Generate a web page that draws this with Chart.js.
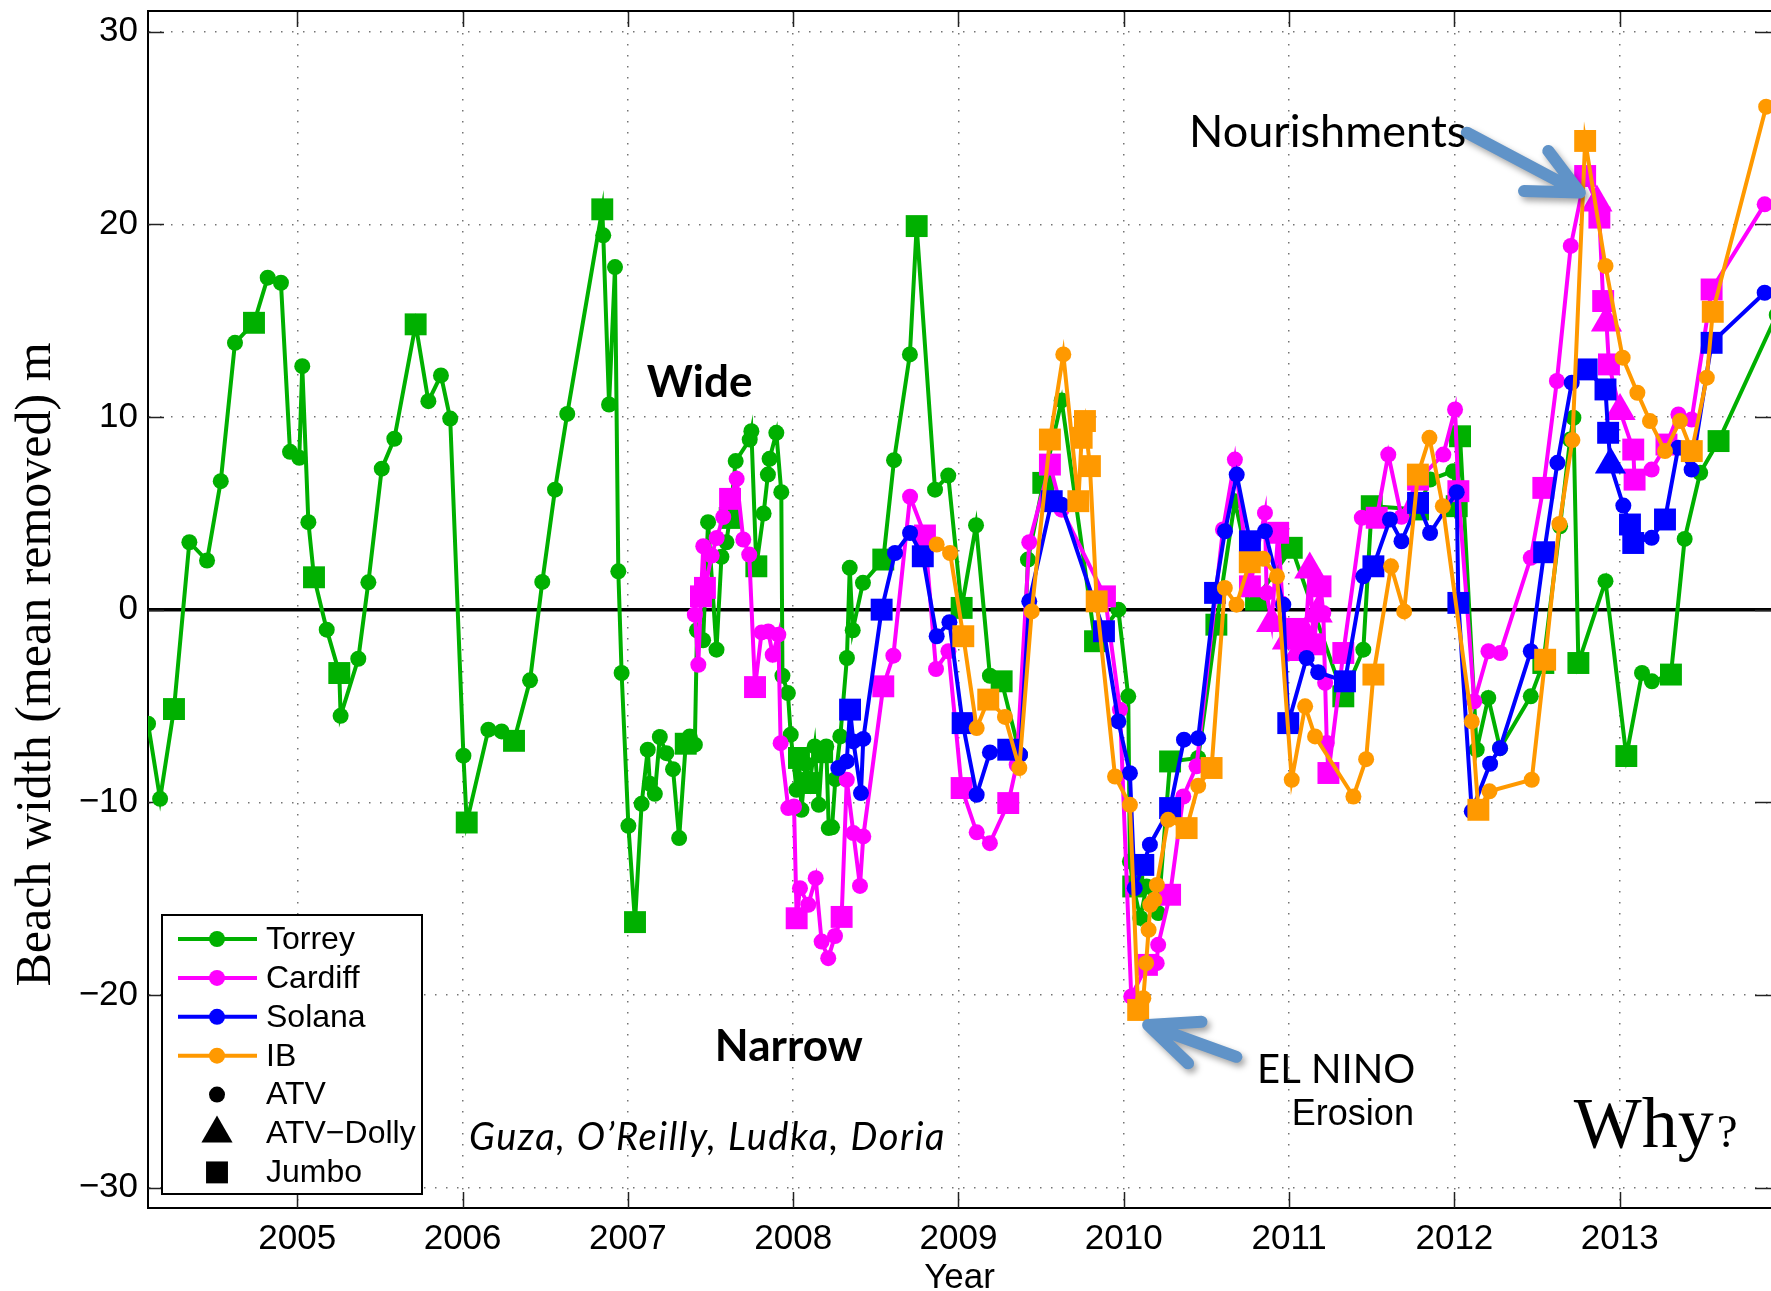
<!DOCTYPE html>
<html>
<head>
<meta charset="utf-8">
<title>Beach width</title>
<script src="https://cdn.jsdelivr.net/npm/chart.js@4.4.1/dist/chart.umd.min.js"></script>
<style>
html, body { margin: 0; padding: 0; background: #fff; overflow: hidden; }
canvas { display: block; }
</style>
</head>
<body>
<canvas id="beach" width="1771" height="1291"></canvas>
<script>
// Beach width anomaly (mean removed, m) per survey.
// Row: [decimal year, width, vehicle]   A = ATV, D = ATV-Dolly, J = Jumbo
const torrey = [
  [2004.097,-5.92,'A'],[2004.170,-9.82,'A'],[2004.254,-5.16,'J'],[2004.347,3.50,'A'],
  [2004.454,2.55,'A'],[2004.537,6.67,'A'],[2004.623,13.85,'A'],[2004.738,14.89,'J'],
  [2004.821,17.23,'A'],[2004.901,16.97,'A'],[2004.956,8.19,'A'],[2005.012,7.88,'A'],
  [2005.030,12.64,'A'],[2005.067,4.54,'A'],[2005.101,1.68,'J'],[2005.178,-1.04,'A'],
  [2005.254,-3.29,'J'],[2005.262,-5.51,'A'],[2005.369,-2.55,'A'],[2005.430,1.42,'A'],
  [2005.511,7.32,'A'],[2005.587,8.87,'A'],[2005.716,14.81,'J'],[2005.793,10.82,'A'],
  [2005.869,12.16,'A'],[2005.925,9.92,'A'],[2006.005,-7.58,'A'],[2006.025,-11.05,'J'],
  [2006.156,-6.23,'A'],[2006.236,-6.32,'A'],[2006.311,-6.81,'J'],[2006.408,-3.67,'A'],
  [2006.482,1.44,'A'],[2006.559,6.23,'A'],[2006.633,10.16,'A'],[2006.845,20.78,'J'],
  [2006.851,19.43,'A'],[2006.886,10.65,'A'],[2006.922,17.78,'A'],[2006.942,1.99,'A'],
  [2006.962,-3.29,'A'],[2007.003,-11.22,'A'],[2007.043,-16.22,'J'],[2007.083,-10.08,'A'],
  [2007.120,-7.27,'A'],[2007.133,-9.04,'A'],[2007.163,-9.56,'A'],[2007.193,-6.61,'A'],
  [2007.233,-7.45,'A'],[2007.273,-8.28,'A'],[2007.310,-11.86,'A'],[2007.350,-6.96,'J'],
  [2007.374,-6.58,'A'],[2007.405,-7.01,'A'],[2007.418,-1.07,'A'],[2007.455,-1.59,'A'],
  [2007.485,4.54,'A'],[2007.536,-2.08,'A'],[2007.566,2.74,'A'],[2007.596,3.50,'A'],
  [2007.616,4.76,'J'],[2007.652,7.71,'A'],[2007.737,8.83,'A'],[2007.747,9.26,'A'],
  [2007.777,2.25,'J'],[2007.821,4.99,'A'],[2007.847,7.01,'A'],[2007.857,7.83,'A'],
  [2007.898,9.18,'A'],[2007.928,6.10,'A'],[2007.935,-3.43,'A'],[2007.968,-4.33,'A'],
  [2007.985,-6.49,'A'],[2008.020,-9.35,'A'],[2008.035,-7.70,'J'],[2008.050,-10.39,'A'],
  [2008.075,-8.00,'A'],[2008.100,-9.00,'J'],[2008.130,-7.10,'A'],[2008.155,-10.13,'A'],
  [2008.175,-7.40,'J'],[2008.200,-7.10,'A'],[2008.215,-11.34,'A'],[2008.235,-11.30,'A'],
  [2008.255,-8.80,'A'],[2008.285,-6.58,'A'],[2008.325,-2.51,'A'],[2008.342,2.17,'A'],
  [2008.360,-1.07,'A'],[2008.422,1.39,'A'],[2008.545,2.60,'J'],[2008.610,7.76,'A'],
  [2008.706,13.25,'A'],[2008.747,19.91,'J'],[2008.858,6.23,'A'],[2008.938,6.96,'A'],
  [2009.019,0.09,'J'],[2009.106,4.38,'A'],[2009.190,-3.43,'A'],[2009.261,-3.72,'J'],
  [2009.372,-7.53,'A'],[2009.420,2.60,'A'],[2009.513,6.58,'J'],[2009.624,10.86,'A'],
  [2009.826,-1.64,'J'],[2009.967,0.00,'A'],[2010.027,-4.50,'A'],[2010.037,-13.07,'A'],
  [2010.057,-14.37,'J'],[2010.100,-16.00,'A'],[2010.138,-14.37,'A'],[2010.208,-15.75,'A'],
  [2010.280,-7.88,'J'],[2010.450,-7.70,'A'],[2010.560,-0.78,'J'],[2010.672,5.63,'A'],
  [2010.800,0.52,'J'],[2011.016,3.21,'J'],[2011.328,-4.50,'J'],[2011.449,-2.08,'A'],
  [2011.500,5.37,'J'],[2011.780,5.20,'J'],[2011.853,6.75,'A'],[2011.993,7.19,'A'],
  [2012.014,5.37,'J'],[2012.034,9.00,'J'],[2012.135,-7.27,'A'],[2012.205,-4.58,'A'],
  [2012.276,-7.19,'A'],[2012.462,-4.50,'A'],[2012.538,-2.77,'J'],[2012.639,4.33,'A'],
  [2012.700,8.83,'A'],[2012.720,9.96,'A'],[2012.750,-2.77,'J'],[2012.914,1.48,'A'],
  [2013.040,-7.60,'J'],[2013.135,-3.29,'A'],[2013.195,-3.72,'A'],[2013.310,-3.37,'J'],
  [2013.393,3.67,'A'],[2013.487,7.10,'A'],[2013.598,8.75,'J'],[2013.950,15.30,'A']
];

const cardiff = [
  [2007.405,-0.26,'A'],[2007.426,-2.86,'A'],[2007.442,0.69,'J'],[2007.456,3.29,'A'],
  [2007.466,1.13,'J'],[2007.507,2.81,'A'],[2007.537,3.72,'A'],[2007.577,4.81,'A'],
  [2007.618,5.75,'J'],[2007.658,6.79,'A'],[2007.698,3.64,'A'],[2007.734,2.86,'A'],
  [2007.769,-4.02,'J'],[2007.809,-1.18,'A'],[2007.849,-1.13,'A'],[2007.876,-2.34,'A'],
  [2007.910,-1.30,'A'],[2007.924,-6.93,'A'],[2007.970,-10.30,'A'],[2008.005,-10.22,'A'],
  [2008.021,-16.02,'J'],[2008.041,-14.46,'A'],[2008.091,-15.32,'A'],[2008.136,-13.94,'A'],
  [2008.172,-17.23,'A'],[2008.212,-18.09,'A'],[2008.253,-16.94,'A'],[2008.293,-15.95,'J'],
  [2008.324,-8.83,'A'],[2008.364,-11.60,'A'],[2008.404,-14.34,'A'],[2008.424,-11.77,'A'],
  [2008.545,-3.98,'J'],[2008.606,-2.39,'A'],[2008.707,5.86,'A'],[2008.797,3.85,'J'],
  [2008.864,-3.08,'A'],[2008.939,-2.16,'A'],[2009.019,-9.26,'J'],[2009.110,-11.56,'A'],
  [2009.190,-12.12,'A'],[2009.301,-10.04,'J'],[2009.352,-8.05,'A'],[2009.428,3.50,'A'],
  [2009.553,7.53,'J'],[2009.624,5.19,'A'],[2009.886,0.69,'J'],[2009.977,-5.19,'A'],
  [2010.045,-20.08,'A'],[2010.140,-18.44,'J'],[2010.199,-18.35,'A'],[2010.208,-17.40,'A'],
  [2010.280,-14.80,'J'],[2010.360,-9.70,'A'],[2010.440,-8.13,'A'],[2010.600,4.16,'A'],
  [2010.672,7.79,'A'],[2010.763,1.21,'J'],[2010.854,5.02,'A'],[2010.864,0.87,'A'],
  [2010.894,-0.69,'D'],[2010.934,3.99,'J'],[2010.960,0.30,'A'],[2010.990,-1.60,'D'],
  [2011.030,-1.00,'J'],[2011.060,-2.20,'D'],[2011.100,-1.30,'D'],[2011.125,2.08,'D'],
  [2011.150,-1.80,'J'],[2011.170,-0.20,'D'],[2011.190,1.21,'J'],[2011.207,-0.17,'A'],
  [2011.218,-3.80,'A'],[2011.228,-6.92,'A'],[2011.238,-8.48,'J'],[2011.328,-2.25,'J'],
  [2011.440,4.77,'A'],[2011.530,4.77,'J'],[2011.600,8.05,'A'],[2011.680,4.82,'A'],
  [2011.780,6.75,'J'],[2011.933,8.05,'A'],[2012.004,10.39,'A'],[2012.024,6.15,'J'],
  [2012.120,-4.76,'A'],[2012.206,-2.16,'A'],[2012.277,-2.25,'A'],[2012.462,2.69,'A'],
  [2012.538,6.32,'J'],[2012.620,11.87,'A'],[2012.704,18.88,'A'],[2012.791,22.51,'J'],
  [2012.862,21.13,'D'],[2012.877,20.35,'J'],[2012.900,16.02,'J'],[2012.920,14.90,'D'],
  [2012.935,12.73,'J'],[2013.002,10.31,'D'],[2013.082,8.31,'J'],[2013.090,6.75,'J'],
  [2013.193,7.27,'A'],[2013.283,8.57,'J'],[2013.355,10.13,'A'],[2013.435,9.87,'A'],
  [2013.556,16.62,'J'],[2013.877,21.04,'A']
];

const solana = [
  [2008.273,-8.22,'A'],[2008.324,-7.88,'A'],[2008.344,-5.19,'J'],[2008.364,-6.84,'A'],
  [2008.410,-9.52,'A'],[2008.424,-6.71,'A'],[2008.535,0.00,'J'],[2008.616,2.94,'A'],
  [2008.707,3.98,'A'],[2008.784,2.77,'J'],[2008.868,-1.38,'A'],[2008.945,-0.65,'A'],
  [2009.025,-5.89,'J'],[2009.110,-9.61,'A'],[2009.190,-7.41,'A'],[2009.301,-7.27,'J'],
  [2009.372,-7.53,'A'],[2009.428,0.43,'A'],[2009.564,5.63,'J'],[2009.624,5.45,'A'],
  [2009.880,-1.12,'J'],[2009.967,-5.80,'A'],[2010.037,-8.49,'A'],[2010.066,-14.46,'A'],
  [2010.118,-13.25,'J'],[2010.158,-12.20,'A'],[2010.280,-10.30,'J'],[2010.364,-6.75,'A'],
  [2010.450,-6.67,'A'],[2010.552,0.87,'J'],[2010.612,4.07,'A'],[2010.683,7.01,'A'],
  [2010.763,3.55,'J'],[2010.854,4.07,'A'],[2010.965,0.26,'A'],[2010.995,-5.89,'J'],
  [2011.106,-2.51,'A'],[2011.176,-3.25,'A'],[2011.338,-3.72,'J'],[2011.449,1.73,'A'],
  [2011.510,2.25,'J'],[2011.610,4.68,'A'],[2011.680,3.55,'A'],[2011.780,5.54,'J'],
  [2011.853,3.98,'A'],[2012.014,6.10,'A'],[2012.024,0.35,'J'],[2012.105,-10.47,'A'],
  [2012.216,-8.00,'A'],[2012.276,-7.19,'A'],[2012.462,-2.16,'A'],[2012.543,2.98,'J'],
  [2012.623,7.62,'A'],[2012.710,11.78,'A'],[2012.800,12.47,'J'],[2012.914,11.43,'J'],
  [2012.930,9.18,'J'],[2012.944,7.53,'D'],[2013.022,5.40,'A'],[2013.062,4.42,'J'],
  [2013.082,3.46,'J'],[2013.193,3.73,'A'],[2013.274,4.68,'J'],[2013.354,8.40,'A'],
  [2013.435,7.27,'A'],[2013.556,13.85,'J'],[2013.877,16.45,'A']
];

const imperialBeach = [
  [2008.868,3.38,'A'],[2008.949,2.94,'A'],[2009.029,-1.38,'J'],[2009.110,-6.15,'A'],
  [2009.180,-4.67,'J'],[2009.281,-5.57,'A'],[2009.368,-8.22,'A'],[2009.443,-0.09,'A'],
  [2009.553,8.83,'J'],[2009.634,13.25,'A'],[2009.725,5.63,'J'],[2009.745,8.92,'J'],
  [2009.765,9.79,'J'],[2009.795,7.45,'J'],[2009.836,0.43,'J'],[2009.947,-8.66,'A'],
  [2010.037,-10.13,'A'],[2010.087,-20.78,'J'],[2010.118,-20.17,'A'],[2010.135,-18.35,'A'],
  [2010.150,-16.62,'A'],[2010.160,-15.32,'A'],[2010.185,-15.06,'A'],[2010.200,-14.29,'A'],
  [2010.268,-10.91,'A'],[2010.380,-11.34,'J'],[2010.450,-9.14,'A'],[2010.531,-8.22,'J'],
  [2010.611,1.13,'A'],[2010.682,0.26,'A'],[2010.762,2.46,'J'],[2010.843,2.64,'A'],
  [2010.927,1.73,'A'],[2011.016,-8.83,'A'],[2011.097,-5.02,'A'],[2011.157,-6.58,'A'],
  [2011.389,-9.70,'A'],[2011.466,-7.76,'A'],[2011.510,-3.37,'J'],[2011.617,2.25,'A'],
  [2011.696,-0.09,'A'],[2011.779,7.01,'J'],[2011.849,8.92,'A'],[2011.930,5.37,'A'],
  [2012.105,-5.80,'A'],[2012.145,-10.39,'J'],[2012.212,-9.43,'A'],[2012.468,-8.83,'A'],
  [2012.549,-2.60,'J'],[2012.635,4.45,'A'],[2012.714,8.80,'A'],[2012.791,24.33,'J'],
  [2012.914,17.84,'A'],[2013.018,13.08,'A'],[2013.107,11.26,'A'],[2013.183,9.79,'A'],
  [2013.274,8.23,'A'],[2013.365,9.79,'A'],[2013.436,8.23,'J'],[2013.527,12.04,'A'],
  [2013.563,15.46,'J'],[2013.886,26.11,'A']
];

const siteNames  = ['Torrey', 'Cardiff', 'Solana', 'IB'];
const siteColors = ['#00b000', '#ff00ff', '#0000ff', '#ff9900'];
const siteRows   = [torrey, cardiff, solana, imperialBeach];

const gearCodes  = ['A', 'D', 'J'];
const gearNames  = ['ATV', 'ATV\u2212Dolly', 'Jumbo'];

const yearTicks  = [2005, 2006, 2007, 2008, 2009, 2010, 2011, 2012, 2013];
const widthTicks = [-30, -20, -10, 0, 10, 20, 30];

// Marker shape and size for each survey vehicle
const gearStyle  = { A: 'circle', D: 'triangle', J: 'rect' };
const gearRadius = { A: 8, D: 18, J: 15.5 };

// Text annotations placed in data coordinates
const notes = [
  { text: 'Wide',   x: 2007.114, y: 11.06,  font: 'bold 44px Lato' },
  { text: 'Narrow', x: 2007.526, y: -23.43, font: 'bold 44px Lato' },
  { text: 'Guza, O\u2019Reilly, Ludka, Doria', x: 2006.039, y: -28.05, font: 'italic 38px Lato', spacing: '1.6px' },
  { text: 'Nourishments', x: 2010.395, y: 24.0, font: '45px Lato' },
  { text: 'EL NINO', x: 2010.806, y: -24.57, font: '40px Lato' },
  { text: 'Erosion', x: 2011.755, y: -26.75, font: '36px "Liberation Sans"', align: 'right' }
];

const arrows = [
  { tail: [2012.075, 24.76], tip: [2012.759, 21.65], wings: [[2012.568, 23.81], [2012.421, 21.73]] },
  { tail: [2010.681, -23.21], tip: [2010.147, -21.56], wings: [[2010.470, -21.39], [2010.389, -23.55]] }
];

Chart.defaults.font.family = '"Liberation Sans", Arial, sans-serif';
Chart.defaults.color = '#000';

const datasets = siteRows.map((rows, i) => ({
  label: siteNames[i],
  data: rows.map(r => ({ x: r[0], y: r[1] })),
  showLine: true,
  tension: 0,
  borderColor: siteColors[i],
  backgroundColor: siteColors[i],
  borderWidth: 4,
  pointStyle: rows.map(r => gearStyle[r[2]]),
  pointRadius: rows.map(r => gearRadius[r[2]]),
  pointHoverRadius: rows.map(r => gearRadius[r[2]]),
  pointBackgroundColor: siteColors[i],
  pointBorderWidth: 0,
  order: siteRows.length - i
}));

function strokeLine(ctx, x1, y1, x2, y2) {
  ctx.beginPath(); ctx.moveTo(x1, y1); ctx.lineTo(x2, y2); ctx.stroke();
}

function drawMarker(ctx, style, r, cx, cy) {
  ctx.beginPath();
  if (style === 'circle') {
    ctx.arc(cx, cy, r, 0, Math.PI * 2);
  } else if (style === 'rect') {
    const h = r * Math.SQRT1_2;
    ctx.rect(cx - h, cy - h, 2 * h, 2 * h);
  } else {
    ctx.moveTo(cx, cy - r);
    ctx.lineTo(cx + r * 0.866, cy + r * 0.5);
    ctx.lineTo(cx - r * 0.866, cy + r * 0.5);
    ctx.closePath();
  }
  ctx.fill();
}

const axesFrame = {
  id: 'axesFrame',
  beforeDatasetsDraw(chart) {
    const { ctx, chartArea: a, scales: { x, y } } = chart;
    ctx.save();
    // zero line
    ctx.strokeStyle = '#000';
    ctx.lineWidth = 3.5;
    const y0 = y.getPixelForValue(0);
    strokeLine(ctx, a.left, y0, a.right, y0);
    // inward tick marks on all four sides
    ctx.lineWidth = 1.5;
    ctx.strokeStyle = '#222';
    widthTicks.forEach(v => {
      const py = Math.round(y.getPixelForValue(v)) + 0.5;
      strokeLine(ctx, a.left, py, a.left + 16, py);
      strokeLine(ctx, a.right - 16, py, a.right, py);
    });
    yearTicks.forEach(v => {
      const px = Math.round(x.getPixelForValue(v)) + 0.5;
      strokeLine(ctx, px, a.bottom, px, a.bottom - 16);
      strokeLine(ctx, px, a.top, px, a.top + 16);
    });
    ctx.lineWidth = 2;
    ctx.strokeStyle = '#000';
    strokeLine(ctx, a.left, a.top, a.right, a.top);
    ctx.restore();
  },
  afterDraw(chart) {
    const { ctx, chartArea: a, scales: { x, y } } = chart;
    ctx.save();

    // axis titles
    ctx.fillStyle = '#000';
    ctx.font = '35px "Liberation Sans"';
    ctx.textAlign = 'center';
    ctx.textBaseline = 'alphabetic';
    ctx.fillText('Year', (a.left + a.right) / 2, a.bottom + 80);

    ctx.save();
    ctx.translate(50, (a.top + a.bottom) / 2 + 55);
    ctx.rotate(-Math.PI / 2);
    ctx.font = '50px "Liberation Serif"';
    ctx.fillText('Beach width (mean removed) m', 0, 0);
    ctx.restore();

    // arrows
    ctx.save();
    ctx.strokeStyle = '#6093c8';
    ctx.lineWidth = 12;
    ctx.lineCap = 'round';
    ctx.lineJoin = 'round';
    ctx.shadowColor = 'rgba(0,0,0,0.35)';
    ctx.shadowBlur = 6;
    ctx.shadowOffsetX = 3;
    ctx.shadowOffsetY = 4;
    arrows.forEach(ar => {
      const P = p => [x.getPixelForValue(p[0]), y.getPixelForValue(p[1])];
      const t = P(ar.tail), h = P(ar.tip), w1 = P(ar.wings[0]), w2 = P(ar.wings[1]);
      ctx.beginPath();
      ctx.moveTo(t[0], t[1]); ctx.lineTo(h[0], h[1]);
      ctx.moveTo(w1[0], w1[1]); ctx.lineTo(h[0], h[1]); ctx.lineTo(w2[0], w2[1]);
      ctx.stroke();
    });
    ctx.restore();

    // text notes
    ctx.fillStyle = '#000';
    notes.forEach(n => {
      ctx.save();
      ctx.font = n.font;
      if (n.spacing) ctx.letterSpacing = n.spacing;
      ctx.textAlign = n.align || 'left';
      ctx.textBaseline = 'alphabetic';
      ctx.fillText(n.text, x.getPixelForValue(n.x), y.getPixelForValue(n.y));
      ctx.restore();
    });

    // "Why?"
    ctx.fillStyle = '#000';
    ctx.textAlign = 'left';
    ctx.textBaseline = 'alphabetic';
    ctx.font = '72px "Liberation Serif"';
    const wx = x.getPixelForValue(2012.722), wy = y.getPixelForValue(-27.9);
    ctx.fillText('Why', wx, wy);
    const ww = ctx.measureText('Why').width;
    ctx.font = '47px "Liberation Serif"';
    ctx.fillText('?', wx + ww + 3, wy);

    // legend
    const bw = 260, bh = 279;
    const bx = a.left + 14, by = a.bottom - 14 - bh;
    ctx.fillStyle = '#fff';
    ctx.fillRect(bx, by, bw, bh);
    ctx.strokeStyle = '#000';
    ctx.lineWidth = 2;
    ctx.strokeRect(bx, by, bw, bh);
    ctx.font = '32px "Liberation Sans"';
    ctx.textBaseline = 'middle';
    const rowY = i => by + 24 + i * 38.9;
    siteNames.forEach((name, i) => {
      const cy = rowY(i);
      ctx.strokeStyle = siteColors[i];
      ctx.lineWidth = 4;
      strokeLine(ctx, bx + 16, cy, bx + 95, cy);
      ctx.fillStyle = siteColors[i];
      drawMarker(ctx, 'circle', 8, bx + 55, cy);
      ctx.fillStyle = '#000';
      ctx.fillText(name, bx + 104, cy + 1);
    });
    gearCodes.forEach((g, j) => {
      const cy = rowY(siteNames.length + j);
      ctx.fillStyle = '#000';
      drawMarker(ctx, gearStyle[g], gearRadius[g], bx + 55, cy);
      ctx.fillText(gearNames[j], bx + 104, cy + 1);
    });

    ctx.restore();
  }
};

const gridStyle = { color: 'rgba(0,0,0,0.55)', lineWidth: 1.5, drawTicks: false };
const borderStyle = { display: true, color: '#000', width: 2, dash: [1.5, 9.5] };

new Chart(document.getElementById('beach'), {
  type: 'scatter',
  data: { datasets },
  options: {
    responsive: false,
    animation: false,
    devicePixelRatio: 1,
    layout: { autoPadding: false, padding: { top: 11, right: 0, bottom: 0, left: 0 } },
    plugins: { legend: { display: false }, tooltip: { enabled: false } },
    events: [],
    scales: {
      x: {
        type: 'linear',
        min: 2004.0968,
        max: 2013.9153,
        afterBuildTicks: s => { s.ticks = yearTicks.map(v => ({ value: v })); },
        afterFit: s => { s.height = 83; s.paddingLeft = 0; s.paddingRight = 0; },
        ticks: { callback: v => String(v), font: { size: 35 }, color: '#000', padding: 10, maxRotation: 0, autoSkip: false },
        grid: gridStyle,
        border: borderStyle
      },
      y: {
        type: 'linear',
        min: -31.06,
        max: 31.075,
        afterBuildTicks: s => { s.ticks = widthTicks.map(v => ({ value: v })); },
        afterFit: s => { s.width = 148; s.paddingTop = 0; s.paddingBottom = 0; },
        ticks: { callback: v => (v < 0 ? '\u2212' + Math.abs(v) : String(v)), font: { size: 35 }, color: '#000', padding: 10 },
        grid: gridStyle,
        border: borderStyle
      }
    }
  },
  plugins: [axesFrame]
});
</script>
</body>
</html>
